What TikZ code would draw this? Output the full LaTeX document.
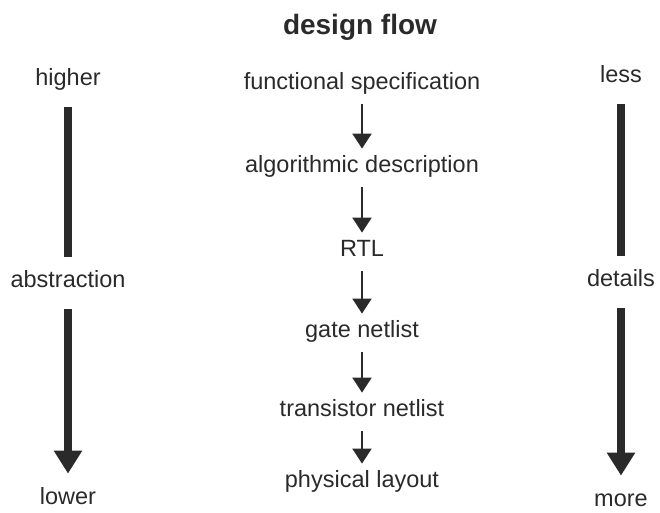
\documentclass[tikz,border=0pt]{standalone}
\usepackage{fontspec}
\setmainfont{Liberation Sans}
\usetikzlibrary{arrows.meta,positioning}
\definecolor{ink}{HTML}{2A2A2A}
\tikzset
{
    txt/.style      = {inner sep=0pt, anchor=base, text=ink, font=\fontsize{11.75}{14}\selectfont, text height=0.75em, text depth=0.25em},
    heading/.style  = {inner sep=0pt, anchor=base, text=ink, font=\fontsize{14}{17}\selectfont\bfseries},
    flowarrow/.style= {draw=ink, fill=ink, line width=1pt, -{Triangle[width=9.5pt,length=7.5pt]}, shorten <=4.5pt, shorten >=4.5pt},
    bar/.style      = {draw=ink, line width=4pt, shorten <=8pt, shorten >=8pt},
    bararrow/.style = {bar, fill=ink, -{Triangle[width=13.5pt,length=11.5pt]}}
}

\begin{document}
\begin{tikzpicture}[x=0.5pt, y=-0.5pt]
		\useasboundingbox (0,0) rectangle (660,513);
		\node[heading] (title) at (360,35) {design flow};
		
		% design steps
		\node[txt] (fs)  at (362,90)  {functional specification};
		\node[txt] (ad)  at (362,173) {algorithmic description};
		\node[txt] (rtl) at (362,257) {RTL};
		\node[txt] (gn)  at (362,338) {gate netlist};
		\node[txt] (tn)  at (362,417) {transistor netlist};
		\node[txt] (pl)  at (362,488) {physical layout};
		\draw[flowarrow] (fs) -- (ad);
		\draw[flowarrow] (ad) -- (rtl);
		\draw[flowarrow] (rtl) -- (gn);
		\draw[flowarrow] (gn) -- (tn);
		\draw[flowarrow] (tn) -- (pl);
		
		% abstraction
		\node[txt] (higher) at (68,86)  {higher};
		\node[txt] (abstr)  at (68,288) {abstraction};
		\node[txt] (lower)  at (68,505) {lower};
		\draw[bar] (higher) -- (abstr);
		\draw[bararrow] (abstr) -- (lower);
		
		% details
		\node[txt] (less)    at (621,83)  {less};
		\node[txt] (details) at (621,287) {details};
		\node[txt] (more)    at (621,507) {more};
		\draw[bar] (less) -- (details);
		\draw[bararrow] (details) -- (more);
		
		\end{tikzpicture}
\end{document}
